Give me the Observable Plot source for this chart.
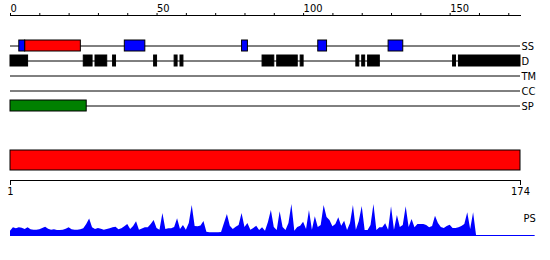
<!DOCTYPE html>
<html><head><meta charset="utf-8">
<script src="https://cdn.jsdelivr.net/npm/d3@7"></script>
<script src="https://cdn.jsdelivr.net/npm/@observablehq/plot@0.6"></script>
<style>
body{margin:0;background:#fff}
#chart{width:550px;height:260px;overflow:hidden}
#chart svg{display:block;overflow:visible}
</style></head><body><div id="chart"></div>
<script>
// ---- data ----
const tracks = ["SS", "D", "TM", "CC", "SP"];
const helices = [[5, 24]];
const strands = [[3, 5], [39, 46], [79, 81], [105, 108], [129, 134]];
const disorder = [[0, 6], [25, 28], [29, 33], [35, 36], [49, 50], [56, 57], [58, 59], [86, 90], [91, 98], [99, 100], [118, 119], [120, 121], [122, 126], [151, 152], [153, 174]];
const transmembrane = [];
const coiledCoil = [];
const signalPeptide = [[0, 26]];
const proteinLength = 174;
const topTicks = [0, 10, 20, 30, 40, 50, 60, 70, 80, 90, 100, 110, 120, 130, 140, 150, 160, 170];
const topTickLabels = [0, 50, 100, 150];
const bottomTickLabels = [1, 174];
const psValues = [
  4.3, 7.7, 6.7, 7.7, 7.3, 6, 7.7, 5.7, 5.3, 5.3,
  5.7, 7, 8.3, 6.3, 5.3, 5.7, 5, 5, 5.3, 6.3,
  7.7, 5.7, 5.3, 5.3, 5.7, 6.7, 11, 16.5, 7.7, 6,
  7, 6.3, 5.3, 6, 6.7, 7.7, 8.3, 5.7, 6.7, 8.7,
  11, 6, 9, 13.7, 5.3, 6.5, 7.7, 7.7, 11, 15,
  7, 5.3, 22, 6, 6.7, 6.7, 8, 16.7, 6, 10,
  5.3, 12, 30, 9, 8.7, 9.5, 14, 3.3, 2.7, 2.7,
  2.7, 2.7, 3, 12, 21, 9.3, 6, 8.3, 10, 22,
  8, 12, 5.3, 7, 9.3, 5, 7.7, 4.3, 13, 25,
  8, 5, 23.7, 8, 5, 12, 31, 4.3, 8, 9.3,
  13.3, 6, 25, 5.3, 18.7, 8, 10, 30, 18, 15,
  8.7, 11, 17.7, 9.3, 14.3, 5, 12, 30, 5.3, 14,
  29, 5, 5, 10, 31, 5, 7.7, 7.7, 11.7, 5.3,
  28.7, 5.3, 20, 8, 10, 28.7, 8, 16, 7.7, 11,
  11, 11, 10, 7.7, 9, 19.3, 12, 8, 7, 9,
  10.3, 7, 7, 7.7, 9, 11, 22.7, 6, 22.7, 0
];
const psLineEnd = 179;

// ---- build ----
const font = {fontFamily: "'DejaVu Sans Condensed', 'DejaVu Sans', sans-serif", fontSize: "11px", color: "black", background: "white", overflow: "visible"};
const features = [
  ...helices.map(([s, e]) => ({track: "SS", start: s, end: e, fill: "red"})),
  ...strands.map(([s, e]) => ({track: "SS", start: s, end: e, fill: "blue"})),
  ...disorder.map(([s, e]) => ({track: "D", start: s, end: e, fill: "black"})),
  ...transmembrane.map(([s, e]) => ({track: "TM", start: s, end: e, fill: "orange"})),
  ...coiledCoil.map(([s, e]) => ({track: "CC", start: s, end: e, fill: "purple"})),
  ...signalPeptide.map(([s, e]) => ({track: "SP", start: s, end: e, fill: "green"}))
];

const p1 = Plot.plot({
  width: 550, height: 115, marginLeft: 10, marginRight: 30, marginTop: 15, marginBottom: 0,
  style: font,
  x: {domain: [0, proteinLength]},
  y: {type: "band", domain: tracks, range: [37.5, 112.5], paddingInner: 0.3, paddingOuter: 0.15},
  marks: [
    Plot.frame({anchor: "top", stroke: "black"}),
    Plot.axisX({anchor: "top", ticks: topTicks, tickSize: 3, tickPadding: 1, textAnchor: "start",
      tickFormat: d => topTickLabels.includes(d) ? String(d) : "", label: null}),
    Plot.ruleY(tracks, {stroke: "black"}),
    Plot.barX(features, {x1: "start", x2: "end", y: "track", fill: d => d.fill, stroke: "black", strokeWidth: 1}),
    Plot.axisY({anchor: "right", tickSize: 0, tickPadding: 1, label: null})
  ]
});

const p2 = Plot.plot({
  width: 550, height: 85, marginLeft: 10, marginRight: 30, marginTop: 0, marginBottom: 20,
  style: font,
  x: {domain: [bottomTickLabels[0], bottomTickLabels[1]]},
  y: {type: "band", domain: ["protein"], range: [35, 55], padding: 0, axis: null},
  marks: [
    Plot.barX([{start: 1, end: proteinLength}], {x1: "start", x2: "end", y: () => "protein", fill: "red", stroke: "black"}),
    Plot.frame({anchor: "bottom", stroke: "black"}),
    Plot.axisX({anchor: "bottom", ticks: bottomTickLabels, tickSize: 5, tickPadding: 2, label: null})
  ]
});

const p3 = Plot.plot({
  width: 550, height: 60, marginLeft: 10, marginRight: 30, marginTop: 4, marginBottom: 25,
  style: font,
  x: {domain: [0, proteinLength], axis: null},
  y: {domain: [0, 31], axis: null},
  marks: [
    Plot.ruleY([0], {x1: 0, x2: psLineEnd, stroke: "blue"}),
    Plot.areaY(psValues, {x: (d, i) => i, y: d => d, fill: "blue"}),
    Plot.text(["PS"], {frameAnchor: "top-right", textAnchor: "start", dx: 3, dy: 10})
  ]
});

const c = document.getElementById("chart");
c.append(p1, p2, p3);
</script></body></html>
